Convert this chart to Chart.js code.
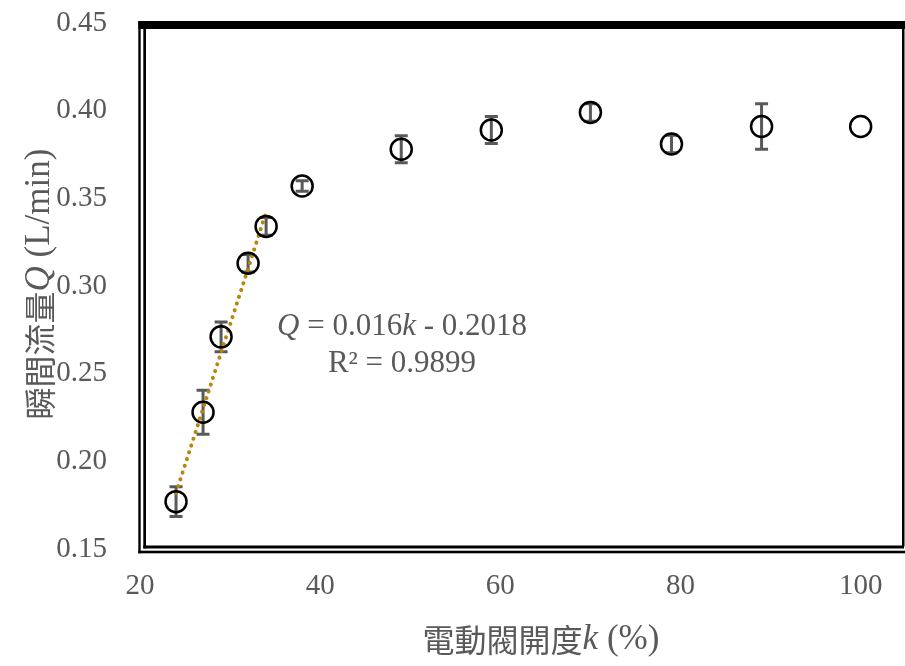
<!DOCTYPE html>
<html>
<head>
<meta charset="utf-8">
<script src="https://cdn.jsdelivr.net/npm/chart.js@4.4.1/dist/chart.umd.min.js"></script>
<style>
    body { margin: 0; background: #ffffff; }
    #wrap { width: 905px; height: 666px; }
</style>
</head>
<body>
<div id="wrap"><canvas id="ChartCanvas" width="905" height="666"></canvas></div>
<script>
var valveOpening = [24, 27, 29, 32, 34, 38, 49, 59, 70, 79, 89, 100]; // k (%)
var flowRate = [0.177, 0.228, 0.271, 0.313, 0.334, 0.357, 0.378, 0.389, 0.399, 0.381, 0.391, 0.391]; // Q (L/min)
var flowError = [0.0085, 0.0125, 0.0085, 0.005, 0.005, 0.003, 0.0077, 0.0077, 0.005, 0.005, 0.013, 0];

var trendOpening = [24, 34];
var trendFlow = [0.182, 0.342];

var xTicks = [20, 40, 60, 80, 100];
var yTicks = [0.15, 0.20, 0.25, 0.30, 0.35, 0.40, 0.45];

var textGray = '#595959';
var serif = '"Liberation Serif", "Times New Roman", serif';
var cjk = '"Noto Sans CJK TC", "Noto Sans CJK SC", sans-serif';

var climateChart = document.getElementById("ChartCanvas").getContext("2d");

function drawPieces(ctx, pieces, x, y) //draw text pieces with different fonts, centered on x
{
    var total = 0;
    for(var i = 0; i < pieces.length; i++)
    {
        ctx.font = pieces[i].font;
        total += ctx.measureText(pieces[i].text).width;
    }
    var cx = x - total / 2;
    for(var i = 0; i < pieces.length; i++)
    {
        ctx.font = pieces[i].font;
        ctx.fillText(pieces[i].text, cx, y);
        cx += ctx.measureText(pieces[i].text).width;
    }
}

var errorBars = //gray error bars under the circle markers
{
    id: 'errorBars',
    beforeDatasetsDraw: function(chart)
    {
        var ctx = chart.ctx;
        var xs = chart.scales.x;
        var ys = chart.scales.y;
        ctx.save();
        ctx.strokeStyle = '#595959';
        ctx.lineWidth = 3;
        for(var i = 0; i < valveOpening.length; i++)
        {
            if(flowError[i] <= 0) continue;
            var px = xs.getPixelForValue(valveOpening[i]);
            var top = ys.getPixelForValue(flowRate[i] + flowError[i]);
            var bottom = ys.getPixelForValue(flowRate[i] - flowError[i]);
            ctx.beginPath();
            ctx.moveTo(px, top);
            ctx.lineTo(px, bottom);
            ctx.moveTo(px - 6.5, top);
            ctx.lineTo(px + 6.5, top);
            ctx.moveTo(px - 6.5, bottom);
            ctx.lineTo(px + 6.5, bottom);
            ctx.stroke();
        }
        ctx.restore();
    }
};

var frameAndText = //double frame round the plot and the mixed font texts
{
    id: 'frameAndText',
    afterDraw: function(chart)
    {
        var ctx = chart.ctx;
        var a = chart.chartArea;
        var w = a.right - a.left;
        var h = a.bottom - a.top;
        ctx.save();
        ctx.fillStyle = '#000000';
        ctx.fillRect(a.left - 1.7, a.top - 2, w + 5, 8);          //thick top
        ctx.fillRect(a.left - 1.7, a.top - 2, 2.4, h + 6.3);      //outer left
        ctx.fillRect(a.left - 1.7, a.bottom + 1.7, w + 5, 2.6);   //outer bottom
        ctx.fillRect(a.left + 3.3, a.top - 2, 2.7, h + 1.5);      //inner left
        ctx.fillRect(a.left + 3.3, a.bottom - 3.5, w - 2.3, 3);   //inner bottom
        ctx.fillRect(a.right - 1, a.top - 2, 2.5, h - 0.5);       //right

        ctx.fillStyle = textGray;
        ctx.textBaseline = 'middle';
        drawPieces(ctx, [
            { text: 'Q', font: 'italic 31px ' + serif },
            { text: ' = 0.016', font: '31px ' + serif },
            { text: 'k', font: 'italic 31px ' + serif },
            { text: ' - 0.2018', font: '31px ' + serif }
        ], 402, 327);
        drawPieces(ctx, [
            { text: 'R² = 0.9899', font: '31px ' + serif }
        ], 402, 364);

        //x axis title
        drawPieces(ctx, [
            { text: '電動閥開度', font: '32px ' + cjk },
            { text: 'k', font: 'italic 35px ' + serif },
            { text: ' (%)', font: '35px ' + serif }
        ], 541, 640);

        //y axis title, rotated
        ctx.translate(40, 284);
        ctx.rotate(-Math.PI / 2);
        drawPieces(ctx, [
            { text: '瞬間流量', font: '32px ' + cjk },
            { text: 'Q', font: 'italic 35px ' + serif },
            { text: ' (L/min)', font: '35px ' + serif }
        ], 0, 0);
        ctx.restore();
    }
};

var config =
{
    type: 'scatter',
    data:
    {
        datasets:
        [
            {
                data: valveOpening.map(function(k, i) { return { x: k, y: flowRate[i] }; }),
                pointStyle: 'circle',
                pointRadius: 10.5,
                pointBorderWidth: 2.5,
                borderColor: '#000000',
                backgroundColor: 'rgba(0,0,0,0)',
                order: 1
            },
            {
                type: 'line',
                data: trendOpening.map(function(k, i) { return { x: k, y: trendFlow[i] }; }),
                borderColor: '#B8860B',
                borderWidth: 4,
                borderDash: [0.1, 7],
                borderCapStyle: 'round',
                pointRadius: 0,
                fill: false,
                order: 2
            }
        ]
    },
    options:
    {
        responsive: false,
        animation: false,
        layout: { autoPadding: false, padding: { top: 23, right: 2, left: 0, bottom: 0 } },
        plugins:
        {
            legend: { display: false },
            tooltip: { enabled: false }
        },
        scales:
        {
            x:
            {
                type: 'linear',
                min: 20,
                max: 104.7,
                grid: { display: true, drawOnChartArea: false, color: 'rgba(0,0,0,0)', tickLength: 20 },
                border: { display: false },
                afterBuildTicks: function(axis) { axis.ticks = xTicks.map(function(v) { return { value: v }; }); },
                afterFit: function(axis) //fixed height, and no extra room for the end labels
                {
                    axis.height = 666 - 549;
                    axis.paddingLeft = 0;
                    axis.paddingRight = 0;
                },
                ticks: { color: textGray, padding: 0, maxRotation: 0, font: { family: serif, size: 29 } }
            },
            y:
            {
                type: 'linear',
                min: 0.15,
                max: 0.45,
                grid: { display: true, drawOnChartArea: false, color: 'rgba(0,0,0,0)', tickLength: 33 },
                border: { display: false },
                afterBuildTicks: function(axis) { axis.ticks = yTicks.map(function(v) { return { value: v }; }); },
                afterFit: function(axis) { axis.width = 140; },
                ticks:
                {
                    color: textGray,
                    padding: 0,
                    font: { family: serif, size: 29 },
                    callback: function(value) { return value.toFixed(2); }
                }
            }
        }
    },
    plugins: [errorBars, frameAndText]
};

var createdChart = new Chart(climateChart, config);
</script>
</body>
</html>
